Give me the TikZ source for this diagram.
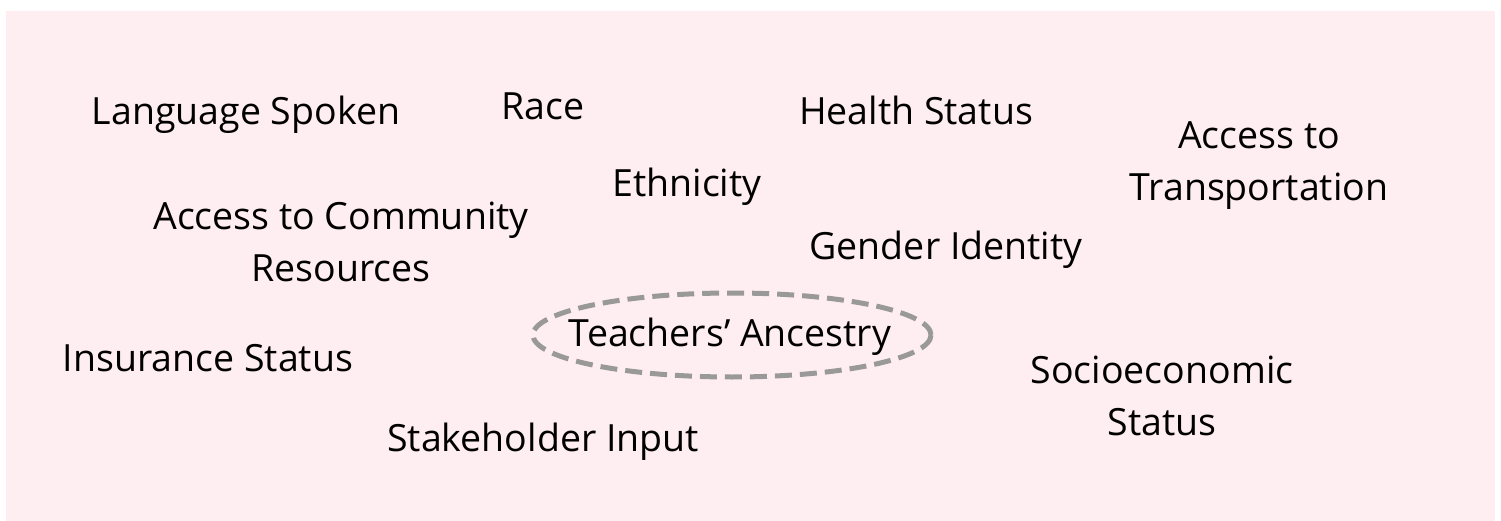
\documentclass[tikz,border=0pt]{standalone}
\usepackage{fontspec}
\setmainfont{Open Sans}
\definecolor{bgpink}{HTML}{FFEEF1}
\definecolor{dashgray}{HTML}{999999}
\tikzset{
  lbl/.style={font=\fontsize{37.5}{52}\selectfont, inner sep=0pt, anchor=base, align=center, text=black},
  ring/.style={draw=dashgray, line width=5pt, dash pattern=on 17pt off 8pt}
}
\begin{document}
\begin{tikzpicture}[x=1pt,y=-1pt]
\useasboundingbox (0,0) rectangle (1501,521);
\fill[bgpink] (6,11) rectangle (1495,521);
\node[lbl] (lang) at (246,125) {Language Spoken};
\node[lbl] (race) at (543,120) {Race};
\node[lbl] (health) at (916,125) {Health Status};
\node[lbl] (transp) at (1259,201) {Access to\\Transportation};
\node[lbl] (eth) at (687,197) {Ethnicity};
\node[lbl] (comm) at (341,282) {Access to Community\\Resources};
\node[lbl] (gender) at (946,259) {Gender Identity};
\node[lbl] (anc) at (730,346) {Teachers’ Ancestry};
\coordinate (ancc) at (732,335);
\draw[ring] (ancc) ellipse [x radius=199, y radius=42];
\node[lbl] (ins) at (208,371) {Insurance Status};
\node[lbl] (stake) at (543,451) {Stakeholder Input};
\node[lbl] (socio) at (1162,435) {Socioeconomic\\Status};
\end{tikzpicture}
\end{document}
